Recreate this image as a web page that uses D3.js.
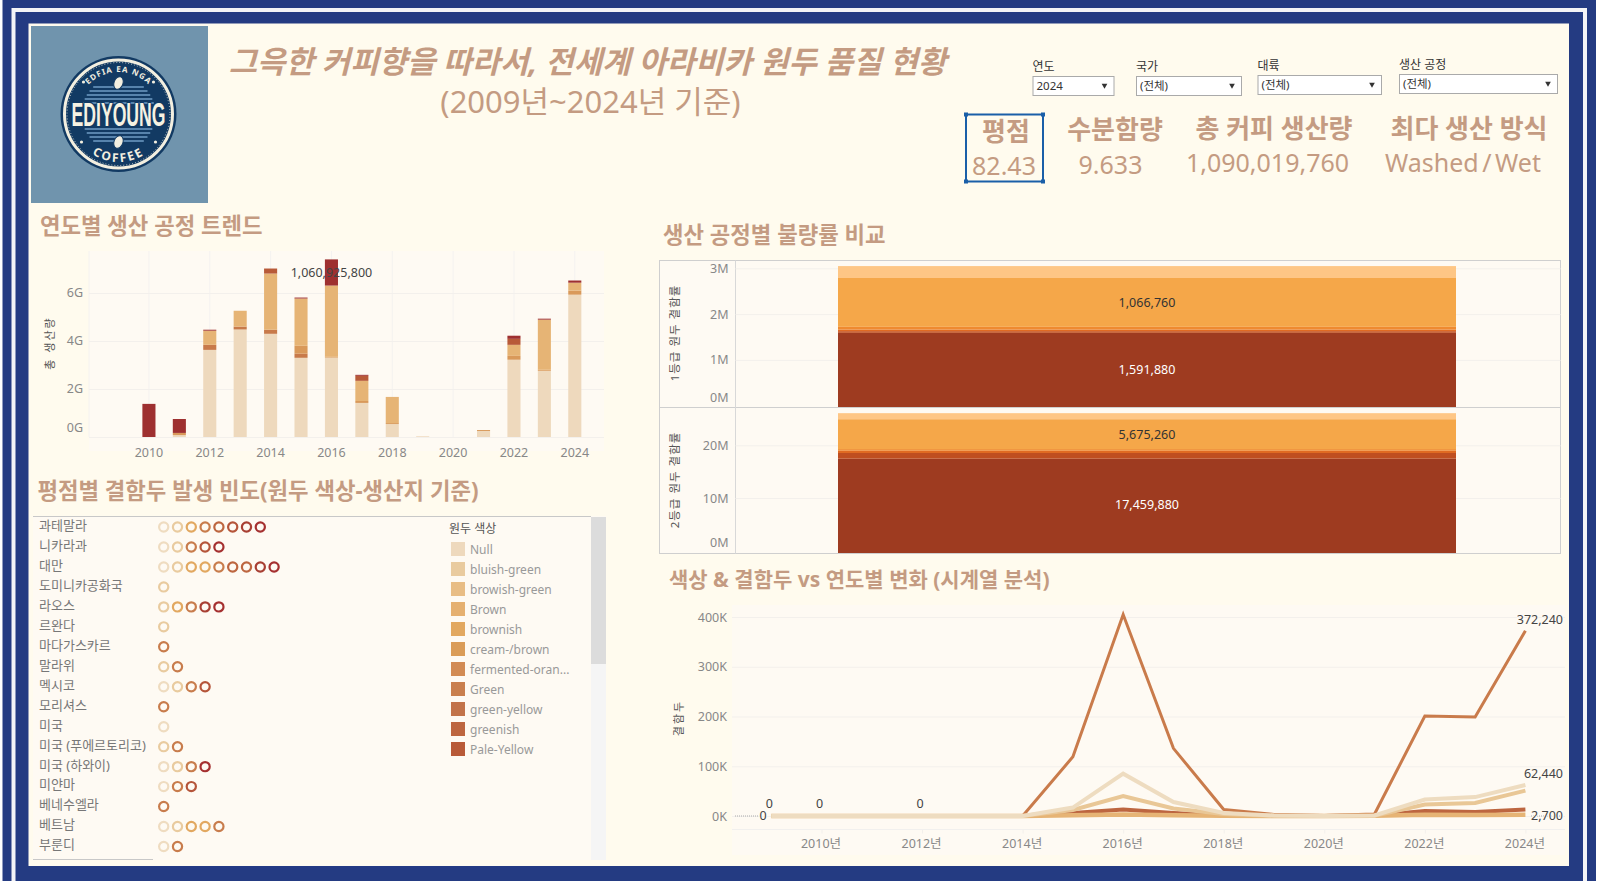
<!DOCTYPE html>
<html lang="ko">
<head>
<meta charset="utf-8">
<title>아라비카 원두 품질 현황</title>
<script src="https://cdn.jsdelivr.net/npm/d3@7"></script>
<style>
  html, body { margin: 0; padding: 0; background: #fff; overflow: hidden; }
  svg { display: block; }
  text { font-family: "Noto Sans", "Noto Sans CJK KR", sans-serif; }
  .heading { fill: #c49b82; font-weight: 700; font-size: 22.3px; }
  .tick text { fill: #888; font-size: 12.5px; }
  .tick line { stroke: #f3f0ec; }
</style>
</head>
<body>
<div id="chart"></div>
<script>
const years = d3.range(2009, 2025);

// 연도별 생산 공정 트렌드 (G)
const trendLight = [0, 0, 0.08, 3.63, 4.48, 4.30, 3.30, 3.31, 1.42, 0.54, 0.03, 0, 0.25, 3.22, 2.76, 5.93];
const trendCopper = [0, 0, 0, 0.21, 0.12, 0.17, 0.17, 0, 0, 0, 0, 0, 0, 0, 0, 0];
const trendOrange = [0, 0, 0.09, 0, 0, 0, 0.33, 0.03, 0.08, 0.04, 0, 0, 0.04, 0.16, 0.04, 0.17];
const trendSand = [0, 0, 0, 0.59, 0.66, 2.34, 1.97, 2.97, 0.84, 1.09, 0, 0, 0, 0.46, 2.09, 0.33];
const trendRust = [0, 0, 0, 0, 0, 0.21, 0, 0, 0.21, 0, 0, 0, 0, 0.25, 0, 0];
const trendRed = [0, 1.38, 0.58, 0.04, 0, 0, 0.04, 1.09, 0.04, 0, 0, 0, 0, 0.13, 0.04, 0.09];
const trendColors = ["#eed9bd", "#c87a4a", "#d9995a", "#e6b475", "#b85a38", "#9e3030"];

// 생산 공정별 불량률
const grade1 = [1591880, 35000, 35000, 60000, 1066760, 260000];
const grade2 = [17459880, 1080000, 440000, 300000, 5675260, 1140000];
const gradeColors = ["#9e3b20", "#bf4e20", "#e06a22", "#ef8a30", "#f5a749", "#fec685"];

// 평점별 결함두 빈도
const countries = ["과테말라", "니카라과", "대만", "도미니카공화국", "라오스", "르완다", "마다가스카르", "말라위",
  "멕시코", "모리셔스", "미국", "미국 (푸에르토리코)", "미국 (하와이)", "미얀마", "베네수엘라", "베트남", "부룬디"];
const countryDots = [
  [0, 1, 2, 3, 4, 5, 6, 7],
  [0, 1, 3, 5, 7],
  [0, 1, 2, 2, 3, 4, 4, 6, 7],
  [1],
  [1, 2, 3, 6, 7],
  [1],
  [3],
  [1, 3],
  [0, 1, 3, 5],
  [3],
  [0],
  [1, 3],
  [0, 1, 3, 7],
  [0, 3, 5],
  [3],
  [0, 1, 2, 2, 3],
  [0, 3]
];
const dotColors = ["#efdcc0", "#e9cb9f", "#e2a860", "#c87c4c", "#bd6640", "#b5553a", "#a83f33", "#a53030"];

const legendNames = ["Null", "bluish-green", "browish-green", "Brown", "brownish", "cream-/brown",
  "fermented-oran...", "Green", "green-yellow", "greenish", "Pale-Yellow"];
const legendColors = ["#eed9bd", "#e9cb9f", "#e8bd85", "#e5b070", "#e2a860", "#da9c58",
  "#d28b54", "#c97f4e", "#c2734a", "#bd6640", "#b85a38"];

// 색상 & 결함두 시계열
const lineRust = [0, 0, 0, 0, 0, 0, 6000, 13000, 6000, 1000, 500, 0, 1000, 10000, 8000, 13000];
const lineCopper = [0, 0, 0, 0, 0, 0, 119000, 405000, 136000, 13000, 3000, 1000, 4000, 201000, 199000, 372240];
const lineSand = [0, 0, 0, 0, 0, 0, 1500, 3000, 1500, 500, 0, 0, 300, 2400, 2000, 2700];
const lineWheat = [0, 0, 0, 0, 0, 0, 12000, 40000, 15000, 4000, 500, 0, 500, 23000, 26000, 51000];
const lineCream = [0, 0, 0, 0, 0, 0, 17000, 85000, 28000, 6000, 1000, 0, 1000, 33000, 38000, 62440];
const zeroYears = [2009, 2010, 2012];

const filterNames = ["연도", "국가", "대륙", "생산 공정"];
const filterValues = ["2024", "(전체)", "(전체)", "(전체)"];
const kpiNames = ["평점", "수분함량", "총 커피 생산량", "최다 생산 방식"];
const kpiValues = ["82.43", "9.633", "1,090,019,760", "Washed / Wet"];

const svg = d3.select("#chart").append("svg").attr("width", 1619).attr("height", 881);
const navy = "#243b82", panelBg = "#fefaf3", titleColor = "#c49b82";

// frame
svg.append("rect").attr("x", 2.5).attr("y", 0).attr("width", 1593.5).attr("height", 881).attr("fill", navy);
svg.append("rect").attr("x", 11.5).attr("y", 8).attr("width", 1575.5).attr("height", 873).attr("fill", "#f4f4f6");
svg.append("rect").attr("x", 15.5).attr("y", 12).attr("width", 1567.5).attr("height", 869).attr("fill", navy);
svg.append("rect").attr("x", 28.5).attr("y", 23.5).attr("width", 1540.5).attr("height", 842.5).attr("fill", "#fffbee");

// logo
const logo = svg.append("g");
logo.append("rect").attr("x", 31).attr("y", 26).attr("width", 177).attr("height", 177).attr("fill", "#7094ad");
const mark = logo.append("g").attr("transform", "translate(118.5,114)");
mark.append("circle").attr("r", 58).attr("fill", "#123a63");
mark.append("circle").attr("r", 54).attr("fill", "none").attr("stroke", "#f3efe0").attr("stroke-width", 3);
mark.append("circle").attr("r", 51.5).attr("fill", "none").attr("stroke", "#f3efe0").attr("stroke-width", 0.8).attr("stroke-dasharray", "1,2");
[-27, -23, -19, -15, -11, 15, 19, 23, 27].forEach((y) => {
  const half = Math.sqrt(37 * 37 - y * y);
  mark.append("line").attr("x1", -half).attr("x2", half).attr("y1", y).attr("y2", y)
    .attr("stroke", "#6f9dc4").attr("stroke-width", 1.5);
});
[[0, -31], [0, 28]].forEach((p) => {
  mark.append("ellipse").attr("cx", p[0]).attr("cy", p[1]).attr("rx", 4.5).attr("ry", 6.5)
    .attr("transform", "rotate(20 " + p[0] + " " + p[1] + ")").attr("stroke", "#123a63").attr("fill", "#f3efe0");
});
[[-35, -32], [35, -32], [-37, 28], [37, 28]].forEach((p) => {
  mark.append("circle").attr("cx", p[0]).attr("cy", p[1]).attr("r", 1.6).attr("fill", "#f3efe0");
});
const defs = svg.append("defs");
defs.append("path").attr("id", "arcTop").attr("d", "M -42 0 A 42 42 0 0 1 42 0");
defs.append("path").attr("id", "arcBottom").attr("d", "M -48 0 A 48 48 0 0 0 48 0");
mark.append("text").attr("text-anchor", "middle").attr("font-size", 8).attr("font-weight", 700)
  .attr("letter-spacing", 1).attr("fill", "#f3efe0")
  .append("textPath").attr("href", "#arcTop").attr("startOffset", "50%").text("EDFIA EA NGA");
mark.append("text").attr("text-anchor", "middle").attr("font-size", 12).attr("font-weight", 700)
  .attr("letter-spacing", 2).attr("fill", "#f3efe0")
  .append("textPath").attr("href", "#arcBottom").attr("startOffset", "50%").text("COFFEE");
mark.append("text").attr("x", -47).attr("y", 12).attr("font-size", 33).attr("font-weight", 700)
  .attr("textLength", 94).attr("lengthAdjust", "spacingAndGlyphs")
  .attr("stroke", "#123a63").attr("stroke-width", 3).attr("paint-order", "stroke")
  .attr("fill", "#f6f2e2").style("font-family", "'Liberation Sans Narrow','Liberation Sans',sans-serif")
  .text("EDIYOUNG");

// titles
svg.append("text").attr("x", 587.5).attr("y", 73).attr("text-anchor", "middle").attr("font-size", 30.85)
  .attr("font-weight", 700).attr("font-style", "italic").attr("fill", titleColor)
  .text("그윽한 커피향을 따라서, 전세계 아라비카 원두 품질 현황");
svg.append("text").attr("x", 590.5).attr("y", 113).attr("text-anchor", "middle").attr("font-size", 31)
  .attr("fill", titleColor).text("(2009년~2024년 기준)");

const headings = [
  ["연도별 생산 공정 트렌드", 40, 234],
  ["평점별 결함두 발생 빈도(원두 색상-생산지 기준)", 37.5, 499],
  ["생산 공정별 불량률 비교", 663, 243],
  ["색상 & 결함두 vs 연도별 변화 (시계열 분석)", 669, 587]
];
svg.selectAll(".heading").data(headings).enter().append("text").attr("class", "heading")
  .attr("x", (d) => d[1]).attr("y", (d) => d[2]).text((d) => d[0])
  .style("font-size", (d, i) => (i === 3 ? "21px" : null));

// filters
const filterBoxes = [[1032.5, 76, 81], [1136, 76, 105], [1257.5, 75, 123.5], [1399, 74, 158]];
filterBoxes.forEach((b, i) => {
  svg.append("text").attr("x", b[0]).attr("y", b[1] - 5).attr("font-size", 12).attr("fill", "#333").text(filterNames[i]);
  svg.append("rect").attr("x", b[0] + 0.5).attr("y", b[1] + 0.5).attr("width", b[2]).attr("height", 19)
    .attr("fill", "#fff").attr("stroke", "#aaa");
  svg.append("text").attr("x", b[0] + 4).attr("y", b[1] + 14).attr("font-size", 11.5).attr("fill", "#333").text(filterValues[i]);
  svg.append("path").attr("d", d3.symbol(d3.symbolTriangle, 14))
    .attr("transform", "translate(" + (b[0] + b[2] - 9) + "," + (b[1] + 9.5) + ") rotate(180)").attr("fill", "#333");
});

// KPI
const kpiTitleX = [1006, 1115, 1274, 1469];
const kpiValueX = [1004, 1110.5, 1267.5, 1463];
const kpiTitleY = [141, 139, 138, 138];
const kpiValueY = [175, 173.5, 171.5, 171.5];
kpiNames.forEach((name, i) => {
  svg.append("text").attr("x", kpiTitleX[i]).attr("y", kpiTitleY[i]).attr("text-anchor", "middle")
    .attr("font-size", 26).attr("font-weight", 700).attr("fill", titleColor).text(name);
  svg.append("text").attr("x", kpiValueX[i]).attr("y", kpiValueY[i]).attr("text-anchor", "middle")
    .attr("font-size", 25).attr("word-spacing", i === 3 ? -3 : 0).attr("fill", titleColor).text(kpiValues[i]);
});
svg.append("rect").attr("x", 966).attr("y", 114.5).attr("width", 77).attr("height", 67)
  .attr("fill", "none").attr("stroke", "#1a5fa8").attr("stroke-width", 2);
[[966, 114.5], [1043, 114.5], [966, 181.5], [1043, 181.5]].forEach((c) => {
  svg.append("rect").attr("x", c[0] - 2).attr("y", c[1] - 2).attr("width", 4).attr("height", 4).attr("fill", "#1a5fa8");
});

// ---- stacked bars per year
const trendTable = years.map((y, i) => ({
  year: y, a: trendLight[i], b: trendCopper[i], c: trendOrange[i], d: trendSand[i], e: trendRust[i], f: trendRed[i]
}));
const trendKeys = ["a", "b", "c", "d", "e", "f"];
const trendStack = d3.stack().keys(trendKeys)(trendTable);
const barX = d3.scaleBand().domain(years).range([103.3, 590]).paddingInner(0.57).paddingOuter(0.285);
const barY = d3.scaleLinear().domain([0, 6]).range([437, 293]);

svg.append("rect").attr("x", 89).attr("y", 251).attr("width", 515).attr("height", 200).attr("fill", panelBg);
const barG = svg.append("g");
barG.selectAll(".vgrid").data(years.filter((y) => y % 2 === 0)).enter().append("line")
  .attr("x1", (d) => barX(d) + barX.bandwidth() / 2).attr("x2", (d) => barX(d) + barX.bandwidth() / 2)
  .attr("y1", 251).attr("y2", 437).attr("stroke", "#f4f2f0");
barG.append("line").attr("x1", 89).attr("x2", 89).attr("y1", 251).attr("y2", 437).attr("stroke", "#f4f2f0");
const barAxisY = barG.append("g").attr("transform", "translate(89,0)")
  .call(d3.axisLeft(barY).tickValues([0, 2, 4, 6]).tickSize(-515).tickPadding(6).tickFormat((d) => d + "G"));
barAxisY.select(".domain").remove();
barAxisY.selectAll(".tick text").attr("dy", "0.25em");
barAxisY.selectAll(".tick").filter((d) => d === 0).select("text").attr("dy", "-0.45em");

trendStack.forEach((layer, i) => {
  barG.selectAll(".layer" + i).data(layer).enter().append("rect")
    .attr("x", (d) => barX(d.data.year)).attr("width", barX.bandwidth())
    .attr("y", (d) => barY(d[1])).attr("height", (d) => barY(d[0]) - barY(d[1]))
    .attr("fill", trendColors[i]);
});
const barAxisX = barG.append("g").attr("transform", "translate(0,437)")
  .call(d3.axisBottom(barX).tickValues(years.filter((y) => y % 2 === 0)).tickSize(0).tickPadding(11));
barAxisX.select(".domain").remove();
barG.append("text").attr("x", barX(2016) + barX.bandwidth() / 2).attr("y", 277).attr("text-anchor", "middle")
  .attr("font-size", 12.5).attr("fill", "#444").text("1,060,925,800");
barG.append("text").attr("transform", "translate(54,343) rotate(-90)").attr("text-anchor", "middle")
  .attr("font-size", 11).attr("letter-spacing", 2).attr("fill", "#555").text("총 생산량");

// ---- dot table
svg.append("rect").attr("x", 33).attr("y", 516).attr("width", 573).attr("height", 344).attr("fill", panelBg);
svg.append("line").attr("x1", 33).attr("x2", 591).attr("y1", 516.5).attr("y2", 516.5).attr("stroke", "#c8c8c8");
svg.append("line").attr("x1", 33).attr("x2", 153).attr("y1", 859.5).attr("y2", 859.5).attr("stroke", "#c8c8c8");
svg.append("rect").attr("x", 591).attr("y", 517).attr("width", 15).attr("height", 343).attr("fill", "#f5f5f5");
svg.append("rect").attr("x", 591).attr("y", 517).attr("width", 15).attr("height", 147).attr("fill", "#dcdcdc");

const rowY = d3.scalePoint().domain(countries).range([527, 846.5]);
const dotX = d3.scaleLinear().domain([0, 8]).range([163.7, 274.1]);
const rows = svg.selectAll(".row").data(countries).enter().append("g").attr("class", "row")
  .attr("transform", (d) => "translate(0," + rowY(d) + ")");
rows.append("text").attr("x", 39).attr("dy", "0.22em").attr("font-size", 13).attr("fill", "#777").text((d) => d);
rows.each(function (d, i) {
  d3.select(this).selectAll("circle").data(countryDots[i]).enter().append("circle")
    .attr("cx", (c, k) => dotX(k)).attr("cy", 0).attr("r", 4.6)
    .attr("fill", "none").attr("stroke", (c) => dotColors[c]).attr("stroke-width", 2.2);
});

// legend
svg.append("text").attr("x", 449).attr("y", 533).attr("font-size", 12).attr("fill", "#555").text("원두 색상");
const legendY = d3.scalePoint().domain(legendNames).range([549, 749]);
const legendRows = svg.selectAll(".legendRow").data(legendNames).enter().append("g")
  .attr("transform", (d) => "translate(451," + legendY(d) + ")");
legendRows.append("rect").attr("y", -7).attr("width", 14).attr("height", 14).attr("fill", (d, i) => legendColors[i]);
legendRows.append("text").attr("x", 19).attr("y", 4.5).attr("font-size", 12).attr("fill", "#999").text((d) => d);

// ---- defect rate panels
svg.append("rect").attr("x", 659.5).attr("y", 260.5).attr("width", 901).attr("height", 293)
  .attr("fill", panelBg).attr("stroke", "#cfcfcf");
svg.append("line").attr("x1", 659.5).attr("x2", 1560.5).attr("y1", 407.5).attr("y2", 407.5).attr("stroke", "#cfcfcf");
svg.append("line").attr("x1", 735.5).attr("x2", 735.5).attr("y1", 260.5).attr("y2", 553.5).attr("stroke", "#d8d8d8");

function gradePanel(values, yScale, ticks, bottom, labelIdx, title, titleY) {
  const g = svg.append("g");
  const axis = g.append("g").attr("transform", "translate(735.5,0)")
    .call(d3.axisLeft(yScale).tickValues(ticks).tickSize(-825).tickPadding(7).tickFormat((d) => d / 1e6 + "M"));
  axis.select(".domain").remove();
  axis.selectAll(".tick").filter((d) => d === 0).select("line").remove();
  axis.selectAll(".tick").filter((d) => d === 0).select("text").attr("dy", "-0.35em");
  let sum = 0;
  values.forEach((v, i) => {
    const y0 = i === 0 ? bottom : yScale(sum);
    const y1 = yScale(sum + v);
    g.append("rect").attr("x", 838).attr("width", 618).attr("y", y1).attr("height", y0 - y1).attr("fill", gradeColors[i]);
    if (labelIdx.includes(i)) {
      g.append("text").attr("x", 1147).attr("y", yScale(sum + v / 2)).attr("dy", "0.35em").attr("text-anchor", "middle")
        .attr("font-size", 12.5).attr("fill", i === 0 ? "#fff" : "#333").text(d3.format(",")(v));
    }
    sum += v;
  });
  g.append("text").attr("transform", "translate(679," + titleY + ") rotate(-90)").attr("text-anchor", "middle")
    .attr("font-size", 11.5).attr("letter-spacing", 1).attr("fill", "#555").text(title);
}
const grade1Y = d3.scaleLinear().domain([0, 3e6]).range([405.7, 268.3]);
const grade2Y = d3.scaleLinear().domain([0, 20e6]).range([550.7, 445.3]);
gradePanel(grade1, grade1Y, [0, 1e6, 2e6, 3e6], 407, [0, 4], "1등급 원두 결함률", 333);
gradePanel(grade2, grade2Y, [0, 10e6, 20e6], 553, [0, 4], "2등급 원두 결함률", 480);

// ---- defect time series
const lineX = d3.scaleLinear().domain([2010, 2024]).range([821.5, 1525.4]);
const lineY = d3.scaleLinear().domain([0, 400000]).range([816, 617]);
svg.append("rect").attr("x", 732).attr("y", 605).attr("width", 833).attr("height", 250).attr("fill", panelBg);
const lineG = svg.append("g");
const lineAxisY = lineG.append("g").attr("transform", "translate(732,0)")
  .call(d3.axisLeft(lineY).tickValues([0, 1e5, 2e5, 3e5, 4e5]).tickSize(-833).tickPadding(5).tickFormat((d) => d / 1000 + "K"));
lineAxisY.select(".domain").remove();
lineAxisY.selectAll(".tick line").attr("stroke", "#f1f2f6");
lineG.append("line").attr("x1", 732).attr("x2", 1565).attr("y1", 829.5).attr("y2", 829.5).attr("stroke", "#f1f0ee");
const lineAxisX = lineG.append("g").attr("transform", "translate(0,829.5)")
  .call(d3.axisBottom(lineX).tickValues(years.filter((y) => y % 2 === 0)).tickSize(4).tickPadding(6).tickFormat((d) => d + "년"));
lineAxisX.select(".domain").remove();
lineAxisX.selectAll(".tick text").attr("dx", -1);

const lineSeries = [
  [lineRust, "#bd6640", 4],
  [lineCopper, "#c97b4b", 3],
  [lineSand, "#e6b475", 4.5],
  [lineWheat, "#e9c796", 4],
  [lineCream, "#eedcc0", 4]
];
const lineGen = d3.line().x((d, i) => lineX(years[i])).y((d) => lineY(d));
lineSeries.forEach((s) => {
  lineG.append("path").attr("d", lineGen(s[0])).attr("fill", "none").attr("stroke", s[1]).attr("stroke-width", s[2]);
});
lineG.append("line").attr("x1", 735).attr("x2", 760).attr("y1", 816).attr("y2", 816)
  .attr("stroke", "#aaa").attr("stroke-dasharray", "1,1");
lineG.append("line").attr("x1", 1531).attr("x2", 1563).attr("y1", 816).attr("y2", 816)
  .attr("stroke", "#aaa").attr("stroke-dasharray", "1,1");
lineG.selectAll(".zero").data(zeroYears).enter().append("text")
  .attr("x", (d) => lineX(d) - 2).attr("y", 808).attr("text-anchor", "middle")
  .attr("font-size", 12.5).attr("fill", "#444").text("0");
const endLabels = [["372,240", 624], ["62,440", 778], ["2,700", 820]];
endLabels.forEach((l) => {
  lineG.append("text").attr("x", 1563).attr("y", l[1]).attr("text-anchor", "end")
    .attr("font-size", 12.5).attr("fill", "#444").attr("paint-order", "stroke")
    .attr("stroke", panelBg).attr("stroke-width", 2).text(l[0]);
});
lineG.append("text").attr("x", 763).attr("y", 820).attr("text-anchor", "middle").attr("font-size", 12.5)
  .attr("fill", "#444").attr("paint-order", "stroke").attr("stroke", panelBg).attr("stroke-width", 2).text("0");
lineG.append("text").attr("transform", "translate(683,718) rotate(-90)").attr("text-anchor", "middle")
  .attr("font-size", 11).attr("letter-spacing", 2).attr("fill", "#555").text("결함두");
</script>
</body>
</html>
